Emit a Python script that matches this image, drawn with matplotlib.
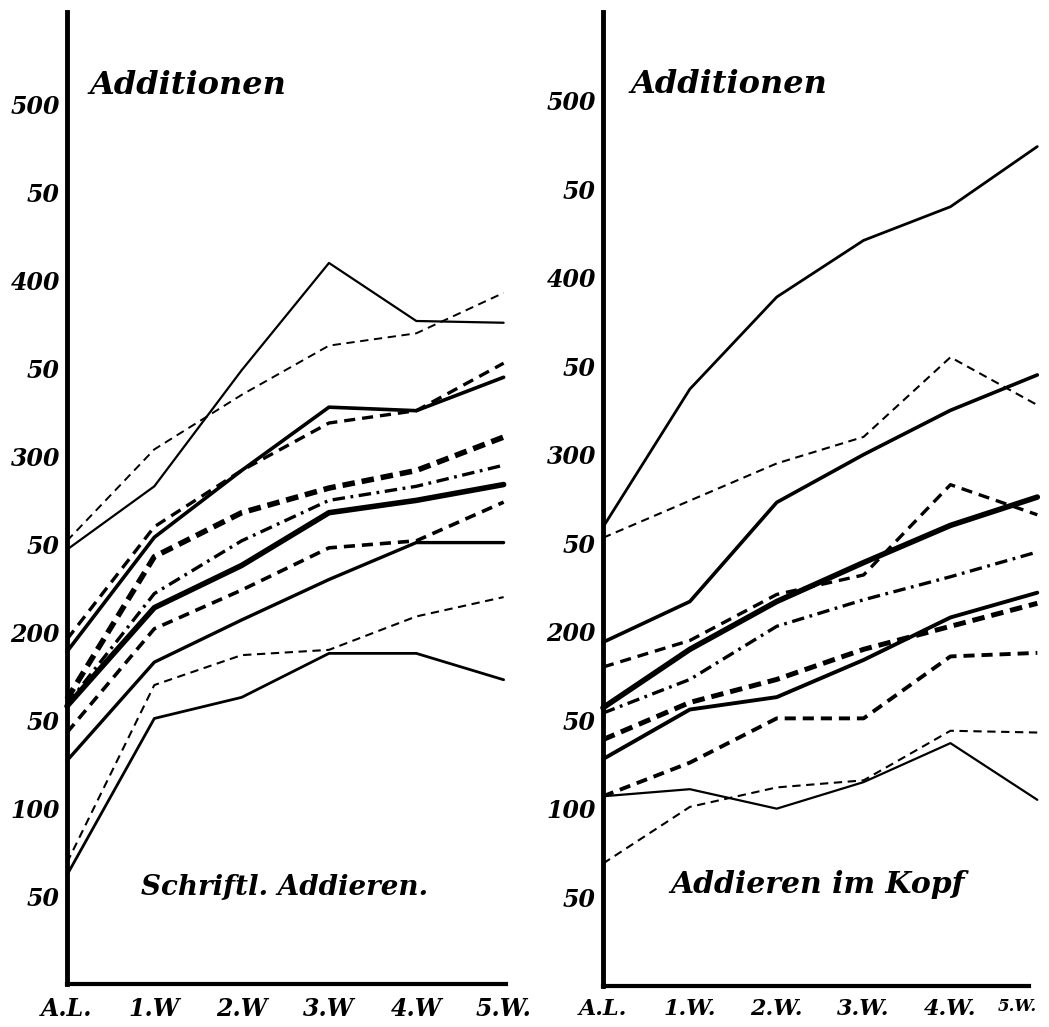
import matplotlib
matplotlib.use("Agg")
import matplotlib.pyplot as plt

# data (Additionen per session)
weeks_left = ['A.L.', '1.W', '2.W', '3.W', '4.W', '5.W.']
weeks_right = ['A.L.', '1.W.', '2.W.', '3.W.', '4.W.', '5.W.']
tick_vals = [50, 100, 150, 200, 250, 300, 350, 400, 450, 500]
tick_text = ['50', '100', '50', '200', '50', '300', '50', '400', '50', '500']

# Schriftl. Addieren
s_thin_solid_top = [247, 283, 349, 410, 377, 376]
s_thin_dash_top = [252, 304, 335, 363, 370, 393]
s_solid_a = [189, 254, 292, 328, 326, 345]
s_dash_a = [196, 260, 292, 319, 326, 353]
s_heavy_dash = [162, 243, 268, 282, 292, 311]
s_dashdot = [159, 222, 252, 275, 283, 295]
s_heavy_solid = [158, 214, 238, 268, 275, 284]
s_dash_b = [143, 202, 224, 248, 252, 274]
s_solid_b = [127, 183, 207, 230, 251, 251]
s_thin_dash_low = [69, 170, 187, 190, 209, 220]
s_solid_low = [62, 151, 163, 188, 188, 173]

# Addieren im Kopf
k_solid_top = [259, 337, 389, 421, 440, 474]
k_thin_dash_top = [253, 274, 295, 310, 355, 328]
k_solid_a = [194, 217, 273, 300, 325, 345]
k_heavy_solid = [157, 190, 217, 239, 260, 276]
k_dash_a = [180, 195, 221, 232, 283, 266]
k_dashdot = [154, 173, 203, 218, 231, 245]
k_solid_b = [128, 156, 163, 184, 208, 222]
k_heavy_dash = [139, 160, 173, 190, 203, 216]
k_dash_b = [107, 126, 151, 151, 186, 188]
k_thin_dash_low = [69, 101, 112, 116, 144, 143]
k_thin_solid_low = [107, 111, 100, 115, 137, 105]

plt.rcParams['lines.scale_dashes'] = False
fnt = {'family': 'DejaVu Serif', 'weight': 'bold', 'style': 'italic'}

THIN_DASH = (6, 4)
MED_DASH = (8, 5)
HEAVY_DASH = (9, 5)
DASH_DOT = (9, 4, 2, 4)

left_lines = [
    (s_thin_solid_top, 1.6, None),
    (s_thin_dash_top, 1.4, THIN_DASH),
    (s_solid_a, 2.6, None),
    (s_dash_a, 2.4, MED_DASH),
    (s_heavy_dash, 4.0, HEAVY_DASH),
    (s_dashdot, 2.4, DASH_DOT),
    (s_heavy_solid, 4.0, None),
    (s_dash_b, 2.6, MED_DASH),
    (s_solid_b, 2.4, None),
    (s_thin_dash_low, 1.5, THIN_DASH),
    (s_solid_low, 2.0, None),
]
right_lines = [
    (k_solid_top, 2.0, None),
    (k_thin_dash_top, 1.5, THIN_DASH),
    (k_solid_a, 2.6, None),
    (k_heavy_solid, 4.0, None),
    (k_dash_a, 2.4, MED_DASH),
    (k_dashdot, 2.4, DASH_DOT),
    (k_solid_b, 2.8, None),
    (k_heavy_dash, 3.6, HEAVY_DASH),
    (k_dash_b, 2.8, MED_DASH),
    (k_thin_dash_low, 1.5, THIN_DASH),
    (k_thin_solid_low, 1.6, None),
]

fig = plt.figure(figsize=(10.49, 10.27), dpi=100)
ax1 = fig.add_axes([67 / 1049, 43 / 1027, 441 / 1049, 972 / 1027])
ax2 = fig.add_axes([603 / 1049, 41.3 / 1027, 443 / 1049, 973.7 / 1027])


def draw_panel(ax, lines, labels, ytop, xmax, xend):
    x = range(len(labels))
    for vals, lw, dash in lines:
        if dash is None:
            ax.plot(x, vals, color='black', lw=lw, solid_capstyle='round', clip_on=False)
        else:
            ax.plot(x, vals, color='black', lw=lw, dashes=dash, clip_on=False)
    ax.set_xlim(0, xmax)
    ax.set_ylim(0, ytop)
    for s in ['top', 'right']:
        ax.spines[s].set_visible(False)
    ax.spines['left'].set_linewidth(3.5)
    ax.spines['bottom'].set_linewidth(3.0)
    ax.spines['bottom'].set_bounds(0, xend)
    ax.set_yticks(tick_vals)
    ax.set_yticklabels(tick_text, fontdict=fnt, fontsize=17)
    ax.set_xticks(list(x))
    ax.set_xticklabels(labels, fontdict=fnt, fontsize=17)
    ax.tick_params(length=0, axis='y', pad=5)
    ax.tick_params(length=0, axis='x', pad=9)
    ax.patch.set_visible(False)


draw_panel(ax1, left_lines, weeks_left, 552.7, 5.05, 5.03)
draw_panel(ax2, right_lines, weeks_right, 550, 5.1, 4.9)
for lab in ax2.get_xticklabels():
    lab.set_fontsize(16)
last = ax2.get_xticklabels()[-1]
last.set_fontsize(12)
last.set_horizontalalignment('right')

ax1.text(1.39, 511, 'Additionen', fontdict=fnt, fontsize=23, ha='center', va='center')
ax2.text(1.45, 509, 'Additionen', fontdict=fnt, fontsize=23, ha='center', va='center')
ax1.text(2.49, 55, 'Schriftl. Addieren.', fontdict=fnt, fontsize=20, ha='center', va='center')
ax2.text(2.47, 57, 'Addieren im Kopf', fontdict=fnt, fontsize=21.5, ha='center', va='center')

fig.savefig('out.png', dpi=100, facecolor='white')
